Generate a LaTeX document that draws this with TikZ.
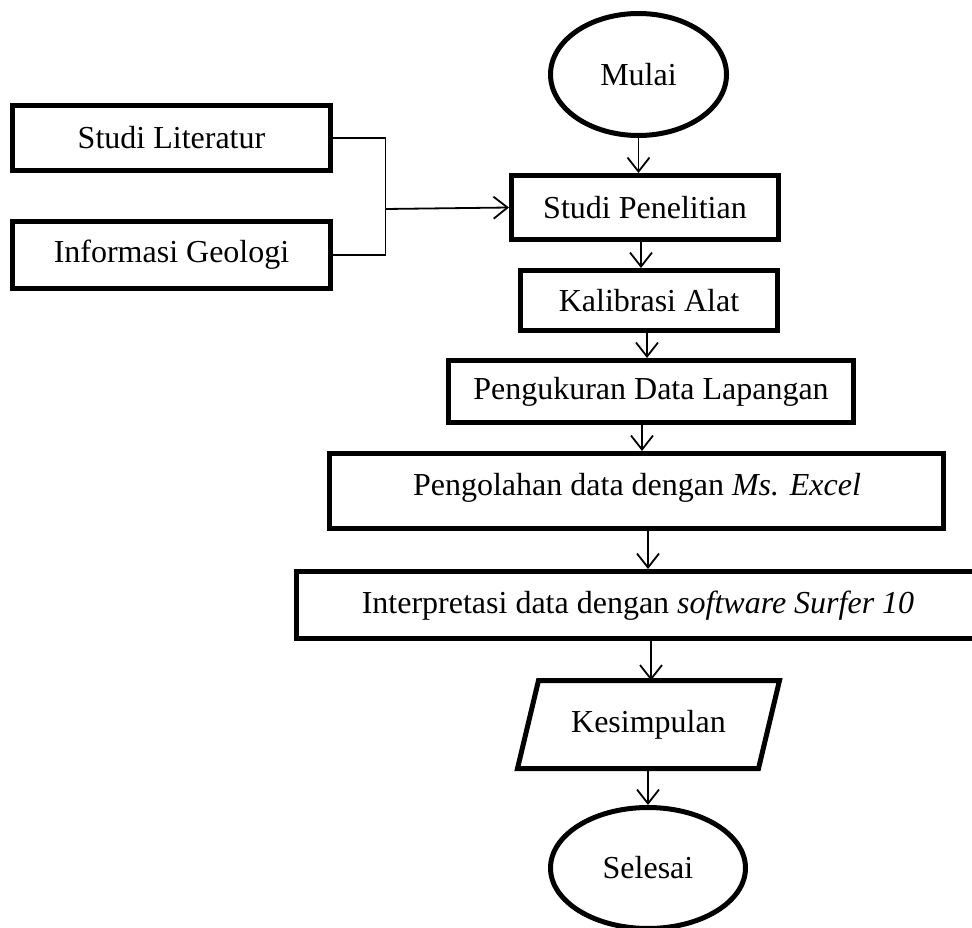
\documentclass[tikz,border=0pt]{standalone}
\usepackage{fontspec}
\setmainfont{Liberation Serif}
\usetikzlibrary{arrows.meta,shapes.geometric}
\begin{document}
\begin{tikzpicture}[x=1pt,y=-1pt,
  every node/.style={font=\fontsize{32}{38}\selectfont},
  box/.style={draw, line width=5pt, rectangle, inner sep=0pt},
  term/.style={draw, line width=5pt, ellipse, inner sep=0pt},
  txt/.style={inner sep=0pt, anchor=base},
  conn/.style={line width=1.8pt},
  arr/.style={line width=1.8pt, -{Straight Barb[length=14pt,width=22pt]}}]
\useasboundingbox (0,0) rectangle (972,928);
\clip (0,0) rectangle (972,928);
% nodes
\node[term, minimum width=176pt, minimum height=122pt] (mulai) at (638.5,74.5) {Mulai};
\node[box, minimum width=318pt, minimum height=65pt] (sl) at (171.5,138) {Studi Literatur};
\node[box, minimum width=318pt, minimum height=67pt] (ig) at (171.5,255) {Informasi Geologi};
\node[box, minimum width=267pt, minimum height=64pt] (sp) at (645,207.5) {Studi Penelitian};
\node[box, minimum width=257pt, minimum height=60pt] (ka) at (649,300.5) {Kalibrasi Alat};
\node[box, minimum width=405pt, minimum height=62pt] (pdl) at (651,391.5) {Pengukuran Data Lapangan};
\node[box, minimum width=614pt, minimum height=75pt] (pms) at (636.5,491) {};
\node[txt] (pmstext) at (637,495) {Pengolahan data dengan \textit{Ms. Excel}};
\node[box, minimum width=690pt, minimum height=67pt] (int) at (641.5,605) {};
\node[txt] (inttext) at (638,613) {Interpretasi data dengan \textit{software Surfer 10}};
% Kesimpulan parallelogram
\coordinate (kTL) at (538.5,680.5);
\coordinate (kTR) at (779.5,680.5);
\coordinate (kBR) at (758.5,768.5);
\coordinate (kBL) at (517.5,768.5);
\draw[line width=5pt, line join=miter] (kTL) -- (kTR) -- (kBR) -- (kBL) -- cycle;
\node[txt] (kes) at (648.5,732) {Kesimpulan};
\node[term, minimum width=195pt, minimum height=121pt] (sel) at (648,868) {Selesai};
% x positions of vertical arrows
\coordinate (x2) at (641,0);
\coordinate (x3) at (647,0);
\coordinate (x4) at (642,0);
\coordinate (x5) at (648,0);
\coordinate (x6) at (651,0);
% bracket
\coordinate (j) at (385.5,209);
\draw[conn] (sl.east) -| (j);
\draw[conn] (ig.east) -| (j);
\draw[arr] (j) -- (sp.west);
% vertical arrows
\draw[arr] (mulai.south) -- (mulai.south |- sp.north);
\draw[arr] (sp.south -| x2) -- (ka.north -| x2);
\draw[arr] (ka.south -| x3) -- (pdl.north -| x3);
\draw[arr] (pdl.south -| x4) -- (pms.north -| x4);
\draw[arr] (pms.south -| x5) -- (int.north -| x5);
\draw[arr] (int.south -| x6) -- (kTL -| x6);
\draw[arr] (sel.north |- kBL) -- (sel.north);
\end{tikzpicture}
\end{document}
